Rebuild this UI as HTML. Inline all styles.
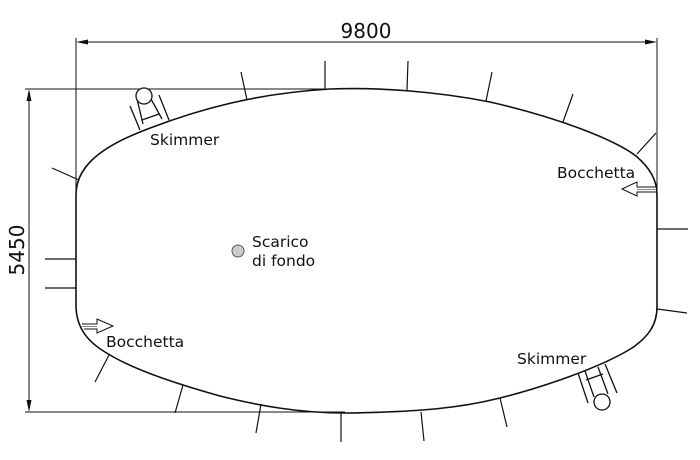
<!DOCTYPE html>
<html><head><meta charset="utf-8"><style>
html,body{margin:0;padding:0;background:#fff;}
svg{display:block;}
text{font-family:"DejaVu Sans","Liberation Sans",sans-serif;fill:#111;}
</style></head><body>
<svg width="700" height="460" viewBox="0 0 700 460" xmlns="http://www.w3.org/2000/svg">
<g stroke="#111" fill="none" stroke-width="1">
<line x1="76" y1="38" x2="76" y2="195"/>
<line x1="657" y1="38" x2="657" y2="195"/>
<line x1="82" y1="42" x2="651" y2="42"/>
<line x1="25" y1="89" x2="330" y2="89"/>
<line x1="25" y1="412" x2="345" y2="412"/>
<line x1="29" y1="95" x2="29" y2="406"/>
</g>
<g fill="#111">
<polygon points="76,42 88,39.5 88,44.5"/>
<polygon points="657,42 645,39.5 645,44.5"/>
<polygon points="29,89 26.5,101 31.5,101"/>
<polygon points="29,412 26.5,400 31.5,400"/>
</g>
<text x="366" y="38" font-size="20" text-anchor="middle">9800</text>
<text transform="translate(24,250) rotate(-90)" font-size="20" text-anchor="middle">5450</text>
<path d="M76,195 C76,170 95,150 140,132 C200,108 260,93 330,89 C380,87 440,92 490,102 C560,118 615,140 636,156 C650,168 657,180 657,195 L657,307 C657,325 648,337 632,348 C600,368 540,388 500,398 C460,408 420,412 345,413 C300,413 260,406 220,396 C170,382 130,368 105,352 C85,340 76,325 76,305 Z" stroke="#111" stroke-width="1.6" fill="none"/>
<g stroke="#111" stroke-width="1.2">
<line x1="247" y1="100" x2="241" y2="72"/>
<line x1="325" y1="89" x2="325" y2="61"/>
<line x1="407" y1="90" x2="408" y2="61"/>
<line x1="486" y1="101" x2="492" y2="72"/>
<line x1="563" y1="122" x2="573" y2="94"/>
<line x1="637" y1="154" x2="656" y2="133"/>
<line x1="79" y1="180" x2="52" y2="168"/>
<line x1="45" y1="259" x2="76" y2="259"/>
<line x1="45" y1="288" x2="76" y2="288"/>
<line x1="657" y1="229" x2="688" y2="229"/>
<line x1="657" y1="309" x2="687" y2="313"/>
<line x1="109" y1="355" x2="95" y2="382"/>
<line x1="183" y1="385" x2="175" y2="413"/>
<line x1="261" y1="404" x2="256" y2="433"/>
<line x1="341" y1="413" x2="341" y2="442"/>
<line x1="421" y1="412" x2="424" y2="441"/>
<line x1="500" y1="398" x2="507" y2="427"/>
</g>
<g stroke="#111" stroke-width="1.3" fill="#fff">
<line x1="130" y1="106" x2="140" y2="130"/>
<line x1="159" y1="95" x2="169" y2="120"/>
<line x1="137" y1="99" x2="143" y2="124"/>
<line x1="151" y1="99" x2="162" y2="119"/>
<line x1="142" y1="120" x2="159" y2="114"/>
<circle cx="144" cy="96" r="8"/>
</g>
<g stroke="#111" stroke-width="1.3" fill="#fff">
<line x1="578" y1="373" x2="588" y2="403"/>
<line x1="605" y1="364" x2="617" y2="393"/>
<line x1="585" y1="371" x2="594" y2="397"/>
<line x1="598" y1="367" x2="608" y2="394"/>
<line x1="586" y1="380" x2="603" y2="374"/>
<circle cx="602" cy="402" r="8"/>
</g>
<g stroke="#111" stroke-width="1" fill="#fff">
<path d="M656,187 L637,187 L637,182 L622,189 L637,196 L637,192 L656,192"/>
<line x1="637" y1="189.5" x2="656" y2="189.5" stroke="#888"/>
<path d="M82,324 L97,324 L97,319 L113,326 L97,333 L97,329 L84,329"/>
<line x1="82" y1="326.5" x2="97" y2="326.5" stroke="#888"/>
</g>
<circle cx="238" cy="251" r="6" fill="#ccc" stroke="#555" stroke-width="1"/>
<g font-size="15.5">
<text x="150" y="145">Skimmer</text>
<text x="517" y="364">Skimmer</text>
<text x="557" y="178">Bocchetta</text>
<text x="106" y="347">Bocchetta</text>
<text x="252" y="247">Scarico</text>
<text x="252" y="266">di fondo</text>
</g>
</svg>
</body></html>
